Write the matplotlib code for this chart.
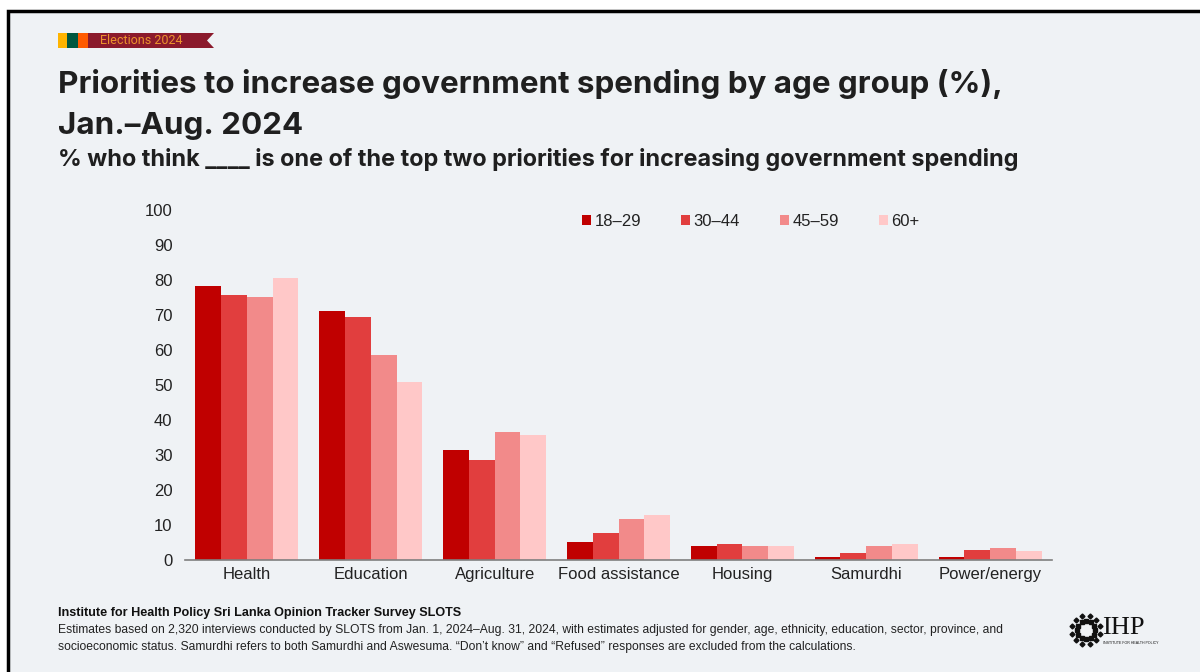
import numpy as np
import matplotlib.pyplot as plt
from matplotlib.patches import Rectangle, Polygon, Patch

# data
categories = ['Health', 'Education', 'Agriculture', 'Food assistance', 'Housing', 'Samurdhi', 'Power/energy']
groups = ['18\u201329', '30\u201344', '45\u201359', '60+']
age_18_29 = [78.4, 71.1, 31.5, 5.1, 4.1, 0.9, 0.9]
age_30_44 = [75.8, 69.5, 28.5, 7.7, 4.6, 2.0, 3.0]
age_45_59 = [75.2, 58.6, 36.7, 11.8, 4.1, 4.1, 3.5]
age_60_up = [80.5, 50.8, 35.7, 12.9, 4.1, 4.6, 2.5]
series = [age_18_29, age_30_44, age_45_59, age_60_up]
colors = ['#c00000', '#e13e3e', '#f28a8a', '#ffc8c8']
yticks = list(range(0, 101, 10))

bg = '#eff2f5'
W, H = 1200, 672

fig = plt.figure(figsize=(12, 6.72), dpi=100, facecolor='white')

def px(x, y):
    return (x / W, 1 - y / H)

# framed panel
fig.patches.append(Rectangle((8/W, -0.1), 1.2, 1 - 11/H + 0.1, transform=fig.transFigure,
                             facecolor=bg, edgecolor='black', linewidth=2.5, zorder=-10))

# banner "Elections 2024"
for x0, x1, c in [(58, 67, '#ffb400'), (67, 78, '#00573f'), (78, 88, '#ff5a00')]:
    fig.patches.append(Rectangle(px(x0, 48), (x1 - x0) / W, 15 / H, transform=fig.transFigure,
                                 facecolor=c, edgecolor='none', zorder=1))
fig.patches.append(Polygon([px(88, 33), px(214, 33), px(207, 40.5), px(214, 48), px(88, 48)],
                           closed=True, transform=fig.transFigure, facecolor='#8b1a2c',
                           edgecolor='none', zorder=1))
fig.text(100/W, 1 - 41/H, 'Elections 2024', color='#ec922c', fontsize=9, family='Roboto',
         va='center', ha='left')

# titles
title_font = ['Inter', 'Roboto', 'DejaVu Sans']
fig.text(58/W, 1 - 93/H, 'Priorities to increase government spending by age group (%),',
         fontsize=22.6, fontweight='bold', family=title_font, color='#1f1f1f', va='baseline')
fig.text(58/W, 1 - 134/H, 'Jan.\u2013Aug. 2024',
         fontsize=22.6, fontweight='bold', family=title_font, color='#1f1f1f', va='baseline')
fig.text(58/W, 1 - 166/H,
         '% who think ____ is one of the top two priorities for increasing government spending',
         fontsize=16.9, fontweight='bold', family=title_font, color='#1f1f1f', va='baseline')

# chart
ax = fig.add_axes([185/W, 1 - 560/H, 867/W, 350/H])
ax.set_facecolor('none')
x = np.arange(len(categories))
bw = 0.208
for i, (vals, c, g) in enumerate(zip(series, colors, groups)):
    ax.bar(x + (i - 1.5) * bw, vals, width=bw, color=c, label=g, edgecolor='none')

ax.set_xlim(-0.5, len(categories) - 0.5)
ax.set_ylim(0, 100)
ax.set_yticks(yticks)
ax.set_xticks(x)
ax.set_xticklabels(categories)
for s in ['top', 'right', 'left']:
    ax.spines[s].set_visible(False)
ax.spines['bottom'].set_color('#7f7f7f')
ax.spines['bottom'].set_linewidth(1.2)
ax.tick_params(axis='y', length=0, pad=9, labelsize=12, labelcolor='#222222')
ax.tick_params(axis='x', length=0, pad=5, labelsize=12, labelcolor='#222222')
for lab in ax.get_xticklabels() + ax.get_yticklabels():
    lab.set_family('Liberation Sans')

handles = [Patch(facecolor=c, edgecolor='none') for c in colors]
leg = ax.legend(handles, groups, loc='center', bbox_to_anchor=((751 - 185) / 867, (560 - 221) / 350),
                ncol=4, frameon=False, handlelength=0.55, handleheight=0.55, handletextpad=0.2,
                columnspacing=2.4, prop={'family': 'Liberation Sans', 'size': 12})
for t in leg.get_texts():
    t.set_color('#222222')

# footer
fig.text(58/W, 1 - 613/H, 'Institute for Health Policy Sri Lanka Opinion Tracker Survey SLOTS',
         fontsize=9.1, fontweight='bold', family='Liberation Sans', color='#111111', va='center')
fig.text(58/W, 1 - 630/H,
         'Estimates based on 2,320 interviews conducted by SLOTS from Jan. 1, 2024\u2013Aug. 31, 2024, '
         'with estimates adjusted for gender, age, ethnicity, education, sector, province, and',
         fontsize=8.7, family='Liberation Sans', color='#222222', va='center')
fig.text(58/W, 1 - 647/H,
         'socioeconomic status. Samurdhi refers to both Samurdhi and Aswesuma. \u201cDon\u2019t know\u201d '
         'and \u201cRefused\u201d responses are excluded from the calculations.',
         fontsize=8.7, family='Liberation Sans', color='#222222', va='center')

# logo
fig.text(1102/W, 1 - 628/H, 'IHP', fontsize=19, family='Liberation Serif', color='#111111',
         va='center', ha='left')
fig.text(1103/W, 1 - 643/H, 'INSTITUTE FOR HEALTH POLICY', fontsize=2.6, family='Liberation Sans',
         color='#111111', va='center', ha='left')
ang = np.linspace(0, 2 * np.pi, 12, endpoint=False)
cx, cy = 1086, 630
fig.add_artist(plt.Line2D((cx + 9 * np.cos(ang)) / W, 1 - (cy + 9 * np.sin(ang)) / H,
                          linestyle='none', marker='s', markersize=2.5, color='#111111',
                          transform=fig.transFigure))
fig.add_artist(plt.Line2D((cx + 14 * np.cos(ang + 0.26)) / W, 1 - (cy + 14 * np.sin(ang + 0.26)) / H,
                          linestyle='none', marker='D', markersize=2.5, color='#111111',
                          transform=fig.transFigure))

fig.savefig('out.png', dpi=100, facecolor=fig.get_facecolor())
